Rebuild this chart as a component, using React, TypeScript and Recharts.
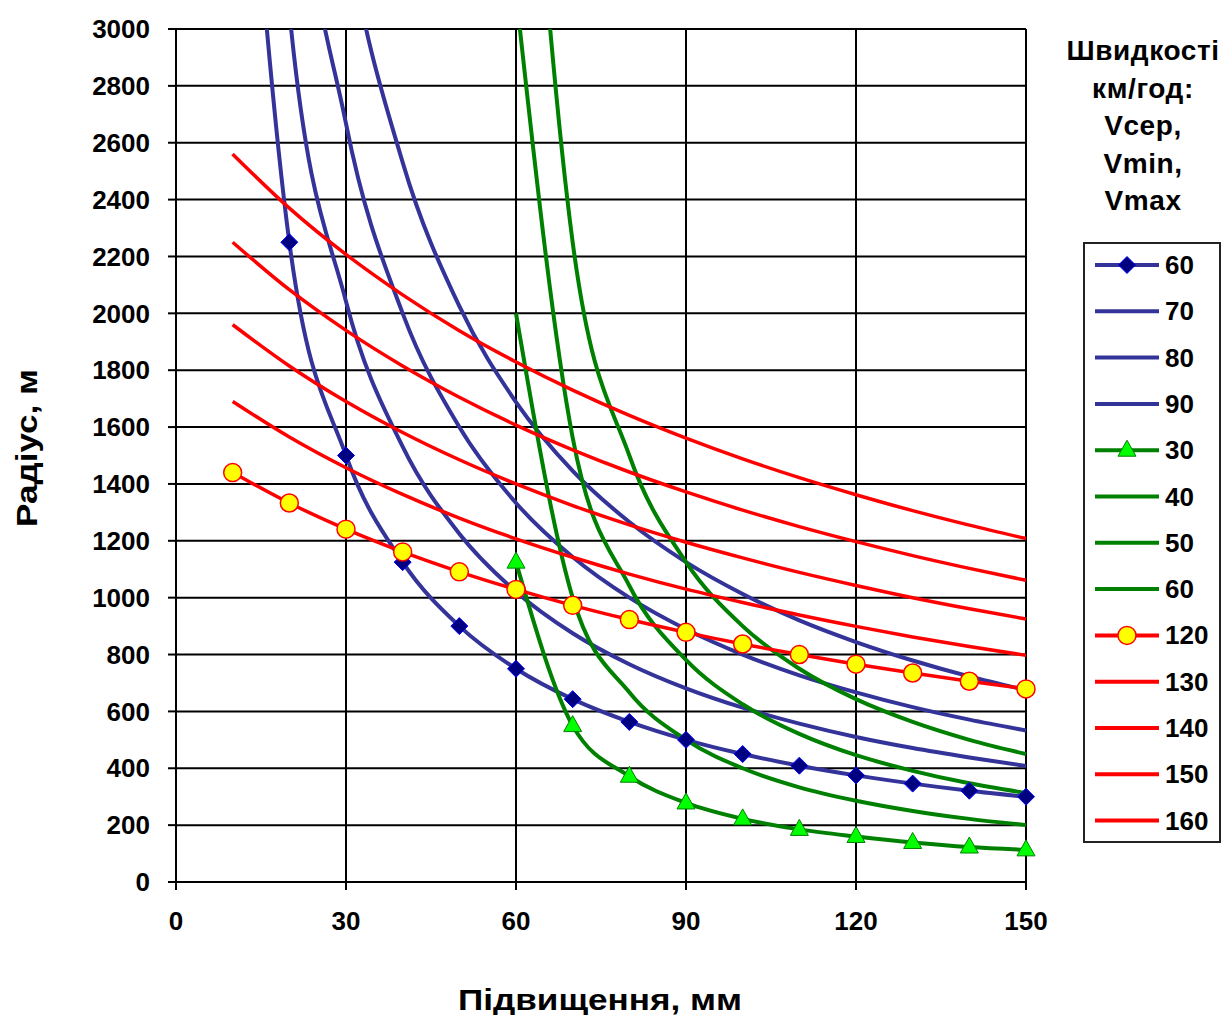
import React from "react";
import { LineChart, Line, XAxis, YAxis, CartesianGrid, Legend, Label } from "recharts";

// superelevation h, mm
const hFrom10 = [10, 20, 30, 40, 50, 60, 70, 80, 90, 100, 110, 120, 130, 140, 150];
const hFrom60 = [60, 70, 80, 90, 100, 110, 120, 130, 140, 150];

// radius, m — blue (Vсер)
const blue60 = [4500, 2250, 1500, 1125, 900, 750, 643, 563, 500, 450, 409, 375, 346, 321, 300];
const blue70 = [6125, 3063, 2042, 1531, 1225, 1021, 875, 766, 681, 613, 557, 510, 471, 438, 408];
const blue80 = [8000, 4000, 2667, 2000, 1600, 1333, 1143, 1000, 889, 800, 727, 667, 615, 571, 533];
const blue90 = [10125, 5063, 3375, 2531, 2025, 1688, 1446, 1266, 1125, 1013, 920, 844, 779, 723, 675];

// green (Vmin)
const green30 = [1125, 550, 372, 278, 222, 185, 160, 139, 123, 113];
const green40 = [2000, 1000, 667, 500, 400, 333, 286, 250, 222, 200];
const green50 = [3125, 1563, 1042, 781, 625, 521, 446, 391, 347, 313];
const green60 = [4500, 2250, 1500, 1125, 900, 750, 643, 563, 500, 450];

// red (Vmax)
const red120 = [1440, 1333, 1241, 1161, 1091, 1029, 973, 923, 878, 837, 800, 766, 735, 706, 679];
const red130 = [1690, 1565, 1457, 1363, 1280, 1207, 1142, 1083, 1030, 983, 939, 899, 862, 828, 797];
const red140 = [1960, 1815, 1690, 1581, 1485, 1400, 1324, 1256, 1195, 1140, 1089, 1043, 1000, 961, 925];
const red150 = [2250, 2083, 1940, 1815, 1705, 1607, 1520, 1442, 1372, 1308, 1250, 1197, 1148, 1103, 1061];
const red160 = [2560, 2370, 2207, 2065, 1939, 1829, 1730, 1641, 1561, 1488, 1422, 1362, 1306, 1255, 1208];

const xTicks = [0, 30, 60, 90, 120, 150];
const yTicks = [0, 200, 400, 600, 800, 1000, 1200, 1400, 1600, 1800, 2000, 2200, 2400, 2600, 2800, 3000];
const legendTitle = ["Швидкості", "км/год:", "Vсер,", "Vmin,", "Vmax"];

const BLUE = "#333399";
const GREEN = "#008000";
const RED = "#FF0000";
const FONT = "'Liberation Sans', Arial, sans-serif";

type Marker = "diamond" | "triangle" | "circle" | null;

const series: { name: string; xs: number[]; ys: number[]; color: string; marker: Marker }[] = [
  { name: "60", xs: hFrom10, ys: blue60, color: BLUE, marker: "diamond" },
  { name: "70", xs: hFrom10, ys: blue70, color: BLUE, marker: null },
  { name: "80", xs: hFrom10, ys: blue80, color: BLUE, marker: null },
  { name: "90", xs: hFrom10, ys: blue90, color: BLUE, marker: null },
  { name: "30", xs: hFrom60, ys: green30, color: GREEN, marker: "triangle" },
  { name: "40", xs: hFrom60, ys: green40, color: GREEN, marker: null },
  { name: "50", xs: hFrom60, ys: green50, color: GREEN, marker: null },
  { name: "60", xs: hFrom60, ys: green60, color: GREEN, marker: null },
  { name: "120", xs: hFrom10, ys: red120, color: RED, marker: "circle" },
  { name: "130", xs: hFrom10, ys: red130, color: RED, marker: null },
  { name: "140", xs: hFrom10, ys: red140, color: RED, marker: null },
  { name: "150", xs: hFrom10, ys: red150, color: RED, marker: null },
  { name: "160", xs: hFrom10, ys: red160, color: RED, marker: null },
];

function MarkerShape({ kind, cx, cy }: { kind: Marker; cx: number; cy: number }) {
  if (kind === "diamond") {
    return (
      <polygon
        points={`${cx},${cy - 8.5} ${cx + 8.5},${cy} ${cx},${cy + 8.5} ${cx - 8.5},${cy}`}
        fill="#000080"
        stroke="#0000FF"
        strokeWidth={1}
      />
    );
  }
  if (kind === "triangle") {
    return (
      <polygon
        points={`${cx},${cy - 10} ${cx + 9},${cy + 6} ${cx - 9},${cy + 6}`}
        fill="#00FF00"
        stroke={GREEN}
        strokeWidth={1}
      />
    );
  }
  if (kind === "circle") {
    return <circle cx={cx} cy={cy} r={9} fill="#FFFF00" stroke={RED} strokeWidth={1.5} />;
  }
  return null;
}

function renderLegend() {
  return (
    <div style={{ position: "relative", width: 164, height: 830, fontFamily: FONT, fontWeight: "bold", color: "#000" }}>
      {legendTitle.map((t, i) => (
        <div
          key={t}
          style={{
            position: "absolute",
            left: 0,
            width: 166,
            textAlign: "center",
            top: 14 + i * 37.5,
            fontSize: 28,
            lineHeight: "34px",
            letterSpacing: 0.6,
          }}
        >
          {t}
        </div>
      ))}
      <div
        style={{ position: "absolute", left: 23, top: 222, width: 134, height: 597, border: "2px solid #222", background: "#fff" }}
      >
        <svg width={80} height={597} style={{ position: "absolute", left: 0, top: 0 }}>
          {series.map((s, i) => {
            const y = 21 + i * 46.3;
            return (
              <g key={i}>
                <line x1={10} x2={74} y1={y} y2={y} stroke={s.color} strokeWidth={4} />
                <MarkerShape kind={s.marker} cx={42} cy={y} />
              </g>
            );
          })}
        </svg>
        {series.map((s, i) => (
          <div
            key={i}
            style={{ position: "absolute", left: 80, top: 21 + i * 46.3 - 17, fontSize: 26, lineHeight: "34px" }}
          >
            {s.name}
          </div>
        ))}
      </div>
    </div>
  );
}

export default function App() {
  const tickStyle = { fill: "#000", fontSize: 26, fontWeight: "bold", fontFamily: FONT };
  return (
    <div style={{ position: "absolute", left: 0, top: 0, width: 1224, height: 1015, background: "#fff" }}>
      <LineChart width={1224} height={1015} margin={{ top: 29, right: 198, bottom: 0, left: 0 }}>
        <CartesianGrid stroke="#000" strokeWidth={2} />
        <XAxis
          dataKey="h"
          type="number"
          domain={[0, 150]}
          ticks={xTicks}
          height={133}
          tick={tickStyle}
          tickSize={8}
          tickMargin={22}
          axisLine={{ stroke: "#000", strokeWidth: 2 }}
          tickLine={{ stroke: "#000", strokeWidth: 2 }}
        >
          <Label
            content={() => (
              <text
                x={600}
                y={1010}
                textAnchor="middle"
                fontFamily={FONT}
                fontWeight="bold"
                fontSize={29}
                fill="#000"
                textLength={284}
                lengthAdjust="spacingAndGlyphs"
              >
                Підвищення, мм
              </text>
            )}
          />
        </XAxis>
        <YAxis
          type="number"
          domain={[0, 3000]}
          allowDataOverflow
          ticks={yTicks}
          width={176}
          tick={tickStyle}
          tickSize={8}
          tickMargin={18}
          axisLine={{ stroke: "#000", strokeWidth: 2 }}
          tickLine={{ stroke: "#000", strokeWidth: 2 }}
        >
          <Label
            content={() => (
              <text
                x={27}
                y={448}
                transform="rotate(-90 27 448)"
                textAnchor="middle"
                dominantBaseline="central"
                fontFamily={FONT}
                fontWeight="bold"
                fontSize={29}
                fill="#000"
                textLength={158}
                lengthAdjust="spacingAndGlyphs"
              >
                Радіус, м
              </text>
            )}
          />
        </YAxis>
        {series.map((s, i) => (
          <Line
            key={i}
            data={s.xs.map((h, j) => ({ h, r: s.ys[j] }))}
            dataKey="r"
            type="monotone"
            stroke={s.color}
            strokeWidth={s.color === RED ? 3.5 : 4}
            isAnimationActive={false}
            activeDot={false}
            dot={
              s.marker
                ? (p: any) => <MarkerShape key={`${i}-${p.index}`} kind={s.marker} cx={p.cx} cy={p.cy} />
                : false
            }
          />
        ))}
        <Legend
          layout="vertical"
          align="center"
          verticalAlign="middle"
          wrapperStyle={{ left: 1060, top: 20, width: 164, height: 830 }}
          content={renderLegend}
        />
      </LineChart>
    </div>
  );
}
